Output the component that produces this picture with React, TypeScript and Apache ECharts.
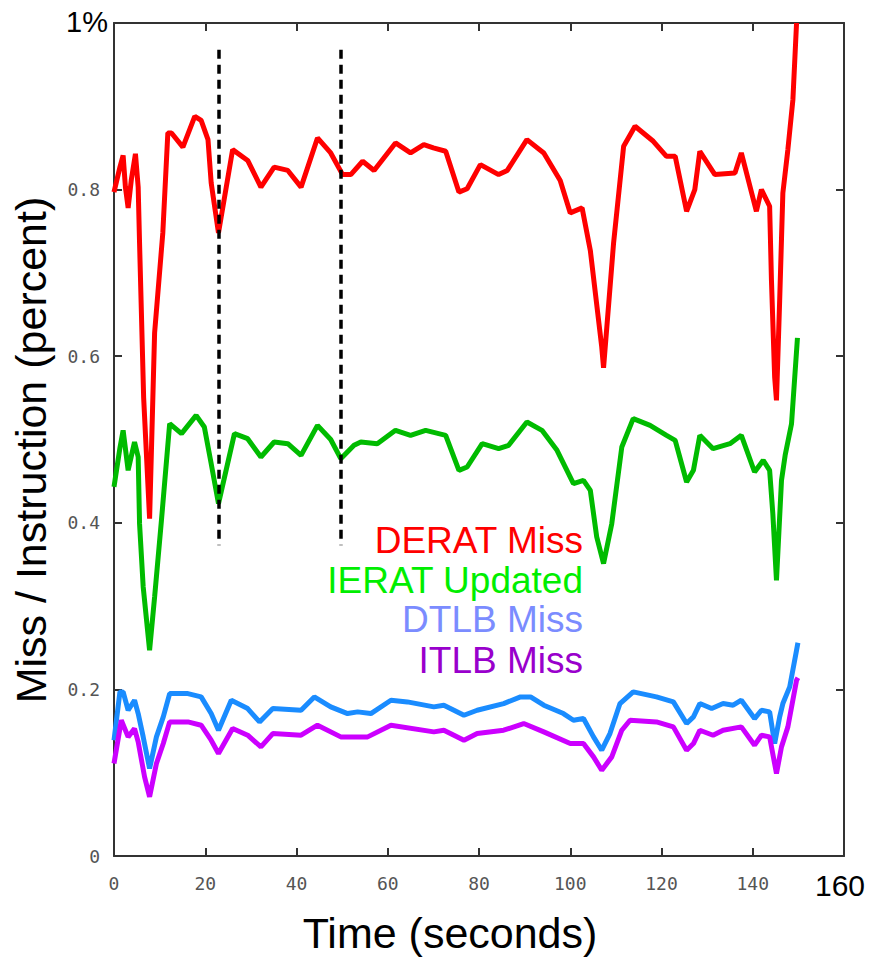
import React, { useEffect, useRef } from "react";
import * as echarts from "echarts";

// ---- data (time in seconds, value in percent) ----
const deratMiss: number[][] = [
  [0, 0.797], [1.3, 0.827], [2, 0.841], [2.5, 0.803], [3.1, 0.778], [3.8, 0.812], [4.7, 0.843],
  [5.3, 0.803], [5.6, 0.736], [6.5, 0.55], [7.8, 0.405], [8.9, 0.628], [10.7, 0.748], [11.8, 0.868],
  [12.6, 0.868], [15.1, 0.851], [17.7, 0.888], [19.1, 0.883], [20.6, 0.86], [21.3, 0.808], [22.9, 0.748],
  [26, 0.848], [29.3, 0.835], [32.2, 0.803], [35.1, 0.827], [38.1, 0.823], [41, 0.803], [44.6, 0.862],
  [47.5, 0.844], [50.1, 0.818], [51.9, 0.818], [54.5, 0.834], [57, 0.823], [61.7, 0.856], [65, 0.844],
  [67.9, 0.854], [70, 0.85], [72.7, 0.846], [75.6, 0.797], [77.4, 0.801], [80.3, 0.83], [84.3, 0.818],
  [86.2, 0.823], [90.5, 0.86], [94.2, 0.844], [97.8, 0.811], [100, 0.772], [102.6, 0.778], [104.4, 0.727],
  [106.9, 0.611], [107.3, 0.586], [109.5, 0.736], [111.7, 0.852], [114.2, 0.876], [118.2, 0.858],
  [121.1, 0.84], [123, 0.84], [125.5, 0.774], [127.3, 0.8], [128.4, 0.846], [131.7, 0.818], [136.1, 0.82],
  [137.5, 0.844], [140.8, 0.774], [141.9, 0.8], [143.7, 0.78], [144.1, 0.691], [144.8, 0.575],
  [145.2, 0.547], [145.9, 0.667], [146.6, 0.796], [147.7, 0.848], [148.8, 0.908], [149.6, 1.0],
];

const ieratUpdated: number[][] = [
  [0, 0.443], [1.3, 0.49], [2, 0.511], [3.1, 0.463], [3.8, 0.48], [4.5, 0.497], [5.3, 0.479], [5.6, 0.399],
  [6.4, 0.323], [7.8, 0.247], [8.9, 0.311], [10.4, 0.403], [12.2, 0.519], [14.8, 0.507], [18, 0.529],
  [19.8, 0.515], [21.3, 0.471], [22.9, 0.423], [26.4, 0.507], [29.3, 0.501], [32.2, 0.479], [35.1, 0.497],
  [38.1, 0.495], [41, 0.481], [44.6, 0.517], [47.5, 0.5], [49.7, 0.477], [52.6, 0.493], [54.1, 0.497],
  [57.7, 0.495], [61.7, 0.511], [65, 0.505], [68.3, 0.511], [72.7, 0.505], [75.6, 0.463], [77.4, 0.467],
  [80.7, 0.495], [84.3, 0.489], [86.5, 0.493], [90.5, 0.521], [93.8, 0.511], [97.1, 0.487], [100.7, 0.447],
  [102.9, 0.451], [104.4, 0.439], [105.8, 0.383], [107.3, 0.351], [109.1, 0.399], [111.3, 0.491],
  [113.8, 0.525], [117.5, 0.517], [121.1, 0.505], [123, 0.499], [125.5, 0.449], [127, 0.463], [128.4, 0.505],
  [131.3, 0.489], [135, 0.495], [137.5, 0.505], [140.4, 0.461], [142.3, 0.475], [143.7, 0.463],
  [144.4, 0.411], [145.2, 0.331], [146.3, 0.451], [147.1, 0.481], [148.5, 0.519], [149.8, 0.622],
];

const dtlbMiss: number[][] = [
  [0, 0.139], [1.3, 0.197], [2, 0.197], [3.1, 0.175], [4.5, 0.187], [5.3, 0.171], [6.4, 0.143], [7.8, 0.105],
  [9.3, 0.143], [10.8, 0.167], [12.2, 0.195], [16.2, 0.195], [19.1, 0.191], [21.3, 0.171], [22.9, 0.151],
  [25.7, 0.187], [29.3, 0.177], [31.9, 0.161], [34.8, 0.177], [41, 0.175], [43.9, 0.191], [47.5, 0.179],
  [51.2, 0.171], [53.4, 0.173], [56.3, 0.171], [60.7, 0.187], [64.3, 0.185], [70.1, 0.179], [72.3, 0.181],
  [76.7, 0.169], [79.6, 0.175], [85.4, 0.183], [89.1, 0.191], [91.3, 0.191], [94.2, 0.181], [98.5, 0.171],
  [100.7, 0.163], [102.9, 0.165], [105.1, 0.143], [106.9, 0.127], [108.7, 0.147], [110.9, 0.183],
  [113.8, 0.197], [118.9, 0.191], [122.6, 0.185], [125.5, 0.159], [127, 0.167], [128.4, 0.183], [131, 0.177],
  [133.5, 0.183], [135.7, 0.181], [137.5, 0.187], [140.4, 0.165], [141.9, 0.175], [143.7, 0.173],
  [144.8, 0.135], [145.9, 0.167], [146.6, 0.183], [148.1, 0.203], [149.6, 0.247], [149.9, 0.256],
];

const itlbMiss: number[][] = [
  [0, 0.111], [1.6, 0.163], [3.1, 0.143], [4.5, 0.153], [5.3, 0.137], [6.7, 0.095], [7.8, 0.071], [9.3, 0.111],
  [10.8, 0.135], [12.2, 0.161], [16.2, 0.161], [19.1, 0.157], [21.3, 0.139], [22.9, 0.123], [26, 0.153],
  [29.3, 0.145], [32.2, 0.131], [34.8, 0.147], [41, 0.145], [44.6, 0.157], [49.7, 0.143], [55.6, 0.143],
  [60.7, 0.157], [70.1, 0.149], [72.3, 0.151], [76.7, 0.139], [79.6, 0.147], [85.4, 0.151], [89.8, 0.159],
  [94.2, 0.149], [100, 0.135], [102.9, 0.135], [105.1, 0.119], [106.9, 0.103], [109.1, 0.119],
  [111.3, 0.151], [113.1, 0.163], [118.9, 0.161], [122.6, 0.155], [125.5, 0.127], [127, 0.135],
  [128.4, 0.151], [131.3, 0.145], [133.5, 0.151], [137.5, 0.155], [140.4, 0.133], [141.9, 0.145],
  [143.7, 0.143], [145.2, 0.099], [146.3, 0.131], [147.7, 0.155], [149.6, 0.211], [149.9, 0.214],
];

const seriesNames = ["DERAT Miss", "IERAT Updated", "DTLB Miss", "ITLB Miss"];
const dashTimes = [22.9, 49.7];
const dashRange = [0.373, 0.968];
const xTicks = [0, 20, 40, 60, 80, 100, 120, 140, 160];
const yTicks = [0, 0.2, 0.4, 0.6, 0.8, 1];

const lineColors = ["#ff0000", "#00bb00", "#1a8cff", "#cc00ff"];
const legendColors = ["#ff0000", "#00ee00", "#7b8cff", "#9900cc"];

export default function App() {
  const ref = useRef<HTMLDivElement>(null);
  useEffect(() => {
    if (!ref.current) return;
    const chart = echarts.init(ref.current, undefined, { renderer: "svg" });
    const tickFont = { fontFamily: "DejaVu Sans Mono", fontSize: 18, color: "#555" };
    const frame = { show: true, onZero: false, lineStyle: { color: "#333", width: 2 } };
    const tick = { show: true, inside: true, length: 8, lineStyle: { color: "#333", width: 2 } };
    const xBase = { type: "value", min: xTicks[0], max: xTicks[xTicks.length - 1], interval: 20, splitLine: { show: false }, axisLine: frame, axisTick: tick };
    const yBase = { type: "value", min: yTicks[0], max: yTicks[yTicks.length - 1], interval: 0.2, splitLine: { show: false }, axisLine: frame, axisTick: tick };
    const data = [deratMiss, ieratUpdated, dtlbMiss, itlbMiss];
    const legendY = [540, 580, 619, 660];
    chart.setOption({
      animation: false,
      backgroundColor: "#fff",
      grid: { left: 114, top: 23, right: 25, bottom: 101 },
      xAxis: [
        { ...xBase, position: "bottom", axisLabel: { ...tickFont, margin: 18, formatter: (v: number) => (v === 160 ? "" : String(v)) } },
        { ...xBase, position: "top", axisLabel: { show: false } },
      ],
      yAxis: [
        { ...yBase, position: "left", axisLabel: { ...tickFont, margin: 14, formatter: (v: number) => (v >= 1 ? "" : v === 0 ? "0" : v.toFixed(1)) } },
        { ...yBase, position: "right", axisLabel: { show: false } },
      ],
      series: data.map((d, i) => ({
        name: seriesNames[i],
        type: "line",
        data: d,
        showSymbol: false,
        symbol: "none",
        smooth: false,
        lineStyle: { color: lineColors[i], width: 5 },
        z: 2 + i,
        markLine: i === 0 ? {
          silent: true,
          symbol: ["none", "none"],
          label: { show: false },
          lineStyle: { color: "#000", width: 3.5, type: [9, 6] },
          data: dashTimes.map((t) => [{ coord: [t, dashRange[1]] }, { coord: [t, dashRange[0]] }]),
        } : undefined,
      })),
      graphic: [
        { type: "text", x: 108, y: 22, style: { text: "1%", font: "29px 'Liberation Sans', Arial, sans-serif", fill: "#000", align: "right", verticalAlign: "middle" } },
        { type: "text", x: 840, y: 885, style: { text: "160", font: "30px 'Liberation Sans', Arial, sans-serif", fill: "#000", align: "center", verticalAlign: "middle" } },
        { type: "text", x: 450, y: 933, style: { text: "Time (seconds)", font: "43px 'Liberation Sans', Arial, sans-serif", fill: "#000", align: "center", verticalAlign: "middle" } },
        { type: "text", x: 31, y: 450, rotation: Math.PI / 2, style: { text: "Miss / Instruction (percent)", font: "43px 'Liberation Sans', Arial, sans-serif", fill: "#000", align: "center", verticalAlign: "middle" } },
        ...seriesNames.map((n, i) => ({
          type: "text", x: 583, y: legendY[i],
          style: { text: n, font: "37px 'Liberation Sans', Arial, sans-serif", fill: legendColors[i], align: "right", verticalAlign: "middle" },
        })),
      ],
    });
    return () => chart.dispose();
  }, []);
  return <div ref={ref} style={{ position: "fixed", left: 0, top: 0, width: 869, height: 957 }} />;
}
